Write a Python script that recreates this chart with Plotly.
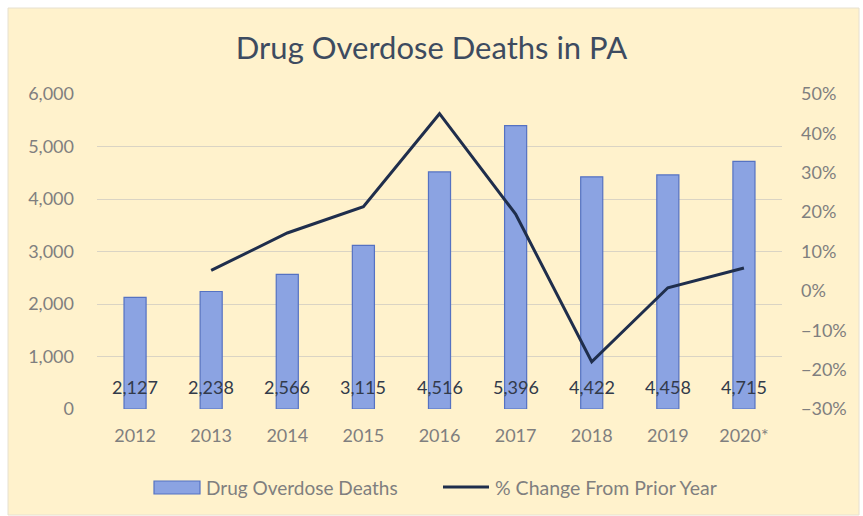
import plotly.graph_objects as go

years = ["2012", "2013", "2014", "2015", "2016", "2017", "2018", "2019", "2020*"]
deaths = [2127, 2238, 2566, 3115, 4516, 5396, 4422, 4458, 4715]
pct_years = ["2013", "2014", "2015", "2016", "2017", "2018", "2019", "2020*"]
pct_change = [5.2, 14.7, 21.4, 45.0, 19.5, -18.0, 0.8, 5.8]
bar_name = "Drug Overdose Deaths"
line_name = "% Change From Prior Year"

W, H = 863, 516
ML, MR, MT, MB = 97, 81, 94, 107
PW, PH = W - ML - MR, H - MT - MB
FONT = "Lato, 'Open Sans', sans-serif"
BAR_FILL, BAR_EDGE = "#8BA3E2", "#5572C2"
LINE_COL = "#1F2E4C"
TICK_COL = "#7F7F7F"

fig = go.Figure()
fig.add_trace(go.Bar(
    x=years, y=deaths, name=bar_name, showlegend=False,
    marker=dict(color=BAR_FILL, line=dict(color=BAR_EDGE, width=1.2)),
    width=0.29, yaxis="y",
))
fig.add_trace(go.Scatter(
    x=pct_years, y=pct_change, name=line_name, showlegend=False,
    mode="lines", line=dict(color=LINE_COL, width=3), yaxis="y2",
))

for i, v in enumerate(deaths):
    fig.add_annotation(x=i, y=0, xref="x", yref="y", text=f"{v:,}",
                       showarrow=False, yanchor="middle", yshift=22,
                       font=dict(family=FONT, size=18, color="#323A4A"))


def px_x(p):
    return (p - ML) / PW


def px_y(p):
    return (H - MB - p) / PH


# panel background (cream) with light outer border
fig.add_shape(type="rect", xref="paper", yref="paper",
              x0=px_x(8), x1=px_x(859), y0=px_y(515), y1=px_y(8),
              fillcolor="#FFF2CC", line=dict(color="#E6E0D0", width=1), layer="below")

# custom legend
LEG_Y = 487
fig.add_shape(type="rect", xref="paper", yref="paper",
              x0=px_x(154), x1=px_x(200), y0=px_y(LEG_Y + 7), y1=px_y(LEG_Y - 6),
              fillcolor=BAR_FILL, line=dict(color=BAR_EDGE, width=1.2))
fig.add_annotation(xref="paper", yref="paper", x=px_x(204), y=px_y(LEG_Y),
                   xanchor="left", yanchor="middle", showarrow=False, text=bar_name,
                   font=dict(family=FONT, size=19, color=TICK_COL))
fig.add_shape(type="line", xref="paper", yref="paper",
              x0=px_x(443), x1=px_x(489), y0=px_y(LEG_Y), y1=px_y(LEG_Y),
              line=dict(color=LINE_COL, width=3))
fig.add_annotation(xref="paper", yref="paper", x=px_x(493), y=px_y(LEG_Y),
                   xanchor="left", yanchor="middle", showarrow=False, text=line_name,
                   font=dict(family=FONT, size=19.5, color=TICK_COL))

fig.update_layout(
    width=W, height=H,
    margin=dict(l=ML, r=MR, t=MT, b=MB),
    paper_bgcolor="white", plot_bgcolor="rgba(0,0,0,0)",
    title=dict(text="Drug Overdose Deaths in PA", x=0.5, xanchor="center",
               y=1 - 48 / H, yanchor="middle",
               font=dict(family=FONT, size=31, color="#3D4B60")),
    font=dict(family=FONT, size=18, color=TICK_COL),
    xaxis=dict(type="category", range=[-0.5, 8.5], showgrid=False, showline=False,
               ticks="", tickfont=dict(size=18, color=TICK_COL), ticklabelstandoff=14),
    yaxis=dict(range=[0, 6000], dtick=1000, tickformat=",d", showgrid=True,
               gridcolor="#DAD4C4", gridwidth=1, zeroline=False, showline=False,
               tickfont=dict(size=18, color=TICK_COL), ticklabelstandoff=22),
    yaxis2=dict(range=[-30, 50], dtick=10, ticksuffix="%", overlaying="y",
                side="right", showgrid=False, zeroline=False, showline=False,
                tickfont=dict(size=18, color=TICK_COL), ticklabelstandoff=18),
    showlegend=False,
    bargap=0.7,
)

fig.write_html("out.html")
